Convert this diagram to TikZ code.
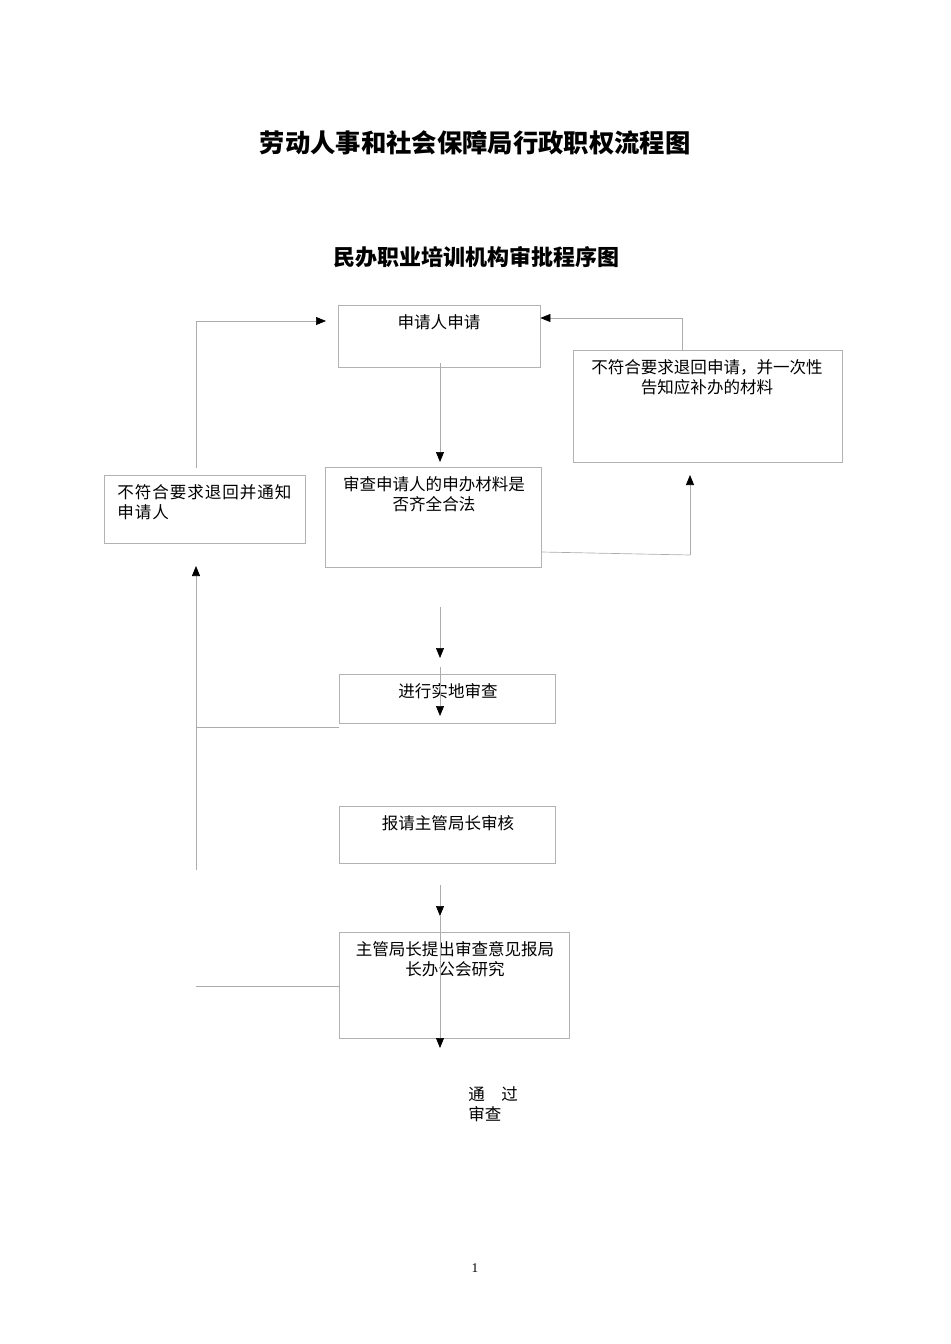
\documentclass[tikz,border=0pt]{standalone}
\usepackage{fontspec}
\setmainfont{Liberation Serif}
\newfontfamily\cjk{Noto Sans CJK SC}
\newfontfamily\cjkwide{Noto Sans CJK SC}[LetterSpace=6]
\usetikzlibrary{arrows.meta,fit}

\begin{document}
\begin{tikzpicture}[x=0.75pt,y=-0.75pt,
  box/.style={draw=gray!60,line width=0.5pt,inner sep=0pt},
  txt/.style={font=\cjk\fontsize{12.4}{14.8}\selectfont,inner sep=0pt,align=center},
  link/.style={draw=gray!65,line width=0.5pt},
  arr/.style={link,-{Triangle[color=black,length=7.5pt,width=6pt]}}]
\useasboundingbox (0,0) rectangle (950,1344);

\node[font=\cjk\bfseries\fontsize{19}{22}\selectfont] (title) at (475,143) {劳动人事和社会保障局行政职权流程图};
\node[font=\cjk\bfseries\fontsize{16.5}{20}\selectfont] (subtitle) at (476,257) {民办职业培训机构审批程序图};

\node[box,fit={(338,305)(540,367)}] (apply) {};
\node[txt] (apply-t) at (439,322) {申请人申请};
\node[box,fit={(573,350)(842,462)}] (back) {};
\node[txt] (back-t) at (707,377) {不符合要求退回申请，并一次性\\告知应补办的材料};
\node[box,fit={(325,467)(541,567)}] (check) {};
\node[txt] (check-t) at (434,494) {审查申请人的申办材料是\\否齐全合法};
\node[box,fit={(104,475)(305,543)}] (refuse) {};
\node[txt,font=\cjkwide\fontsize{12.4}{14.8}\selectfont,anchor=west,align=left] (refuse-t) at (117,502) {不符合要求退回并通知\\申请人};
\node[box,fit={(339,674)(555,723)}] (site) {};
\node[txt] (site-t) at (448,691) {进行实地审查};
\node[box,fit={(339,806)(555,863)}] (report) {};
\node[txt] (report-t) at (448,823) {报请主管局长审核};
\node[box,fit={(339,932)(569,1038)}] (meeting) {};
\node[txt] (meeting-t) at (455,959) {主管局长提出审查意见报局\\长办公会研究};
\node[txt,anchor=west,align=left] (pass) at (468,1104) {通\hspace{1em}过\\审查};
\node[font=\fontsize{10}{12}\selectfont] (page) at (475,1268) {1};

\coordinate (l1) at (196,468);
\coordinate (l2) at (196,321);
\coordinate (l3) at (196,870);
\coordinate (l4) at (196,727);
\coordinate (l5) at (196,986);
\coordinate (r1) at (682,318);
\coordinate (r2) at (690,555);
\coordinate (m1) at (440,607);
\coordinate (m2) at (440,667);
\coordinate (m3) at (440,885);
\coordinate (m4) at (440,916);

\draw[arr] (l1) -- (l2) -- (326,321);
\draw[arr] (back.north -| r1) -- (r1) -- (apply.east |- r1);
\draw[arr] (440,363) -- (440,462);
\draw[link] (check.east |- 0,552) -- (r2);
\draw[arr] (r2) -- (690,475);
\draw[arr] (m1) -- (440,658);
\draw[arr] (m2) -- (440,716);
\draw[arr] (l3) -- (196,566);
\draw[link] (l4) -- (site.west |- l4);
\draw[arr] (m3) -- (m4);
\draw[arr] (m4) -- (440,1048);
\draw[link] (l5) -- (meeting.west |- l5);
\end{tikzpicture}
\end{document}
